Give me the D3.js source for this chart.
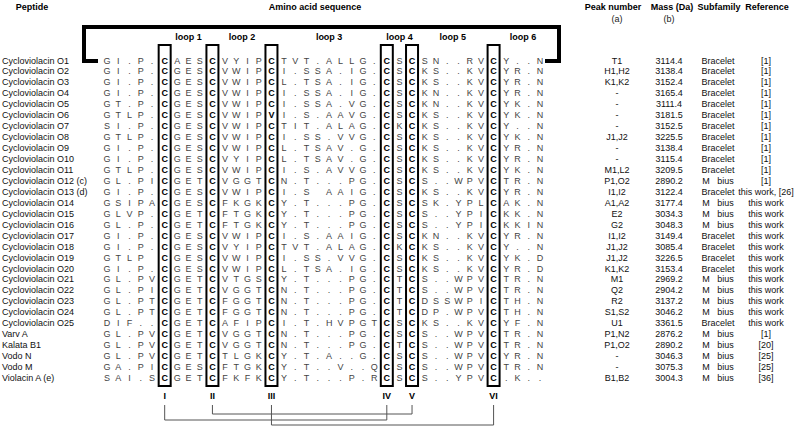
<!DOCTYPE html>
<html><head><meta charset="utf-8">
<script src="https://cdn.jsdelivr.net/npm/d3@7"></script>
<style>
body{margin:0;background:#fff}
svg text{font-family:"Liberation Sans",Arial,Helvetica,sans-serif}
</style>
</head><body>
<svg id="chart" width="794" height="426"></svg>
<script>
// ---------- data ----------
const peptides = ["Cycloviolacin O1","Cycloviolacin O2","Cycloviolacin O3","Cycloviolacin O4","Cycloviolacin O5",
"Cycloviolacin O6","Cycloviolacin O7","Cycloviolacin O8","Cycloviolacin O9","Cycloviolacin O10",
"Cycloviolacin O11","Cycloviolacin O12 (c)","Cycloviolacin O13 (d)","Cycloviolacin O14","Cycloviolacin O15",
"Cycloviolacin O16","Cycloviolacin O17","Cycloviolacin O18","Cycloviolacin O19","Cycloviolacin O20",
"Cycloviolacin O21","Cycloviolacin O22","Cycloviolacin O23","Cycloviolacin O24","Cycloviolacin O25",
"Varv A","Kalata B1","Vodo N","Vodo M","Violacin A (e)"];

// segments: pre | Cys I | loop1 | Cys II | loop2 | Cys III | loop3 | Cys IV | loop4 | Cys V | loop5 | Cys VI | loop6   ("_" = blank)
const sequences = [
"GI.P. C AES C VYIP C TVT.ALLG. C S C SN..RV C Y..N",
"GI.P. C GES C VWIP C I.SSA.IG. C S C KS..KV C YR.N",
"GI.P. C GES C VWIP C L.TSA.IG. C S C KS..KV C YR.N",
"GI.P. C GES C VWIP C I.SSA.IG. C S C KN..KV C YR.N",
"GT.P. C GES C VWIP C I.SSA.VG. C S C KN..KV C YK.N",
"GTLP. C GES C VWIP V I.S.AAVG. C S C KS..KV C YK.N",
"SI.P. C GES C VWIP C TIT.ALAG. C K C KS..KV C Y..N",
"GTLP. C GES C VWIP C I.SS.VVG. C S C KS..KV C YK.N",
"GI.P. C GES C VWIP C L.TSAV.G. C S C KS..KV C YR.N",
"GI.P. C GES C VYIP C L.TSAV.G. C S C KS..KV C YR.N",
"GTLP. C GES C VWIP C I.S.AVVG. C S C KS..KV C YK.N",
"GL.PI C GET C VGGT C N.T...PG. C S C S..WPV C TR.N",
"GI.P. C GES C VWIP C I.S_AAIG. C S C KS..KV C YR.N",
"GSIPA C GES C FKGK C Y.T...PG. C S C SK.YPL C AK.N",
"GLVP. C GET C FTGK C Y.T...PG. C S C S..YPI C KK.N",
"GL.P. C GET C FTGK C Y.T...PG. C S C S..YPI C KKIN",
"GI.P. C GES C VWIP C I.S.AAIG. C S C KN..KV C YR.N",
"GI.P. C GES C VYIP C TVT.ALAG. C K C KS..KV C Y..N",
"GTLP_ C GES C VWIP C I.SS.VVG. C S C KS..KV C YK.D",
"GI.P. C GES C VWIP C L.TSA.IG. C S C KS..KV C YR.D",
"GL.PV C GET C VTGS C Y.T...PG. C T C S..WPV C TR.N",
"GL.PI C GET C VGGT C N.T...PG. C T C S..WPV C TR.N",
"GL.PT C GET C FGGT C N.T...PG. C T C DSSWPI C TH.N",
"GL.PT C GET C FGGT C N.T...PG. C T C DP.WPV C TH.N",
"DIF.. C GET C AFIP C I.T.HVPGT C S C KS..KV C YF.N",
"GL.PV C GET C VGGT C N.T...PG. C S C S..WPV C TR.N",
"GL.PV C GET C VGGT C N.T...PG. C T C S..WPV C TR.N",
"GL.PV C GET C TLGK C Y.T.A..G. C S C S..WPV C YR.N",
"GA.PI C GES C FTGK C Y.T..V..Q C S C S..WPV C TR.N",
"SAI.S C GET C FKFK C Y.T...P.R C S C S..YPV C .K.."
];

const peakNumbers = ["T1","H1,H2","K1,K2","-","-","-","-","J1,J2","-","-","M1,L2","P1,O2","I1,I2","A1,A2","E2","G2",
"I1,I2","J1,J2","J1,J2","K1,K2","M1","Q2","R2","S1,S2","U1","P1,N2","P1,O2","-","-","B1,B2"];

const masses = ["3114.4","3138.4","3152.4","3165.4","3111.4","3181.5","3152.5","3225.5","3138.4","3115.4","3209.5",
"2890.2","3122.4","3177.4","3034.3","3048.3","3149.4","3085.4","3226.5","3153.4","2969.2","2904.2","3137.2",
"3046.2","3361.5","2876.2","2890.2","3046.3","3075.3","3004.3"];

const subfamilies = ["Bracelet","Bracelet","Bracelet","Bracelet","Bracelet","Bracelet","Bracelet","Bracelet","Bracelet",
"Bracelet","Bracelet","M   bius","Bracelet","M   bius","M   bius","M   bius","Bracelet","Bracelet","Bracelet","Bracelet",
"M   bius","M   bius","M   bius","M   bius","Bracelet","M   bius","M   bius","M   bius","M   bius","M   bius"];

const references = ["[1]","[1]","[1]","[1]","[1]","[1]","[1]","[1]","[1]","[1]","[1]","[1]","this work, [26]",
"this work","this work","this work","this work","this work","this work","this work","this work","this work",
"this work","this work","this work","[1]","[20]","[25]","[25]","[36]"];

const columnHeaders = [
  {key:"peak", title:"Peak number", note:"(a)"},
  {key:"mass", title:"Mass (Da)", note:"(b)"},
  {key:"sub", title:"Subfamily", note:""},
  {key:"ref", title:"Reference", note:""}
];
const loopLabels = ["loop 1","loop 2","loop 3","loop 4","loop 5","loop 6"];
const cysLabels = ["I","II","III","IV","V","VI"];
const bonds = [[1,4],[0,3],[2,5]]; // II-V, I-IV, III-VI (drawn at increasing depth)

// ---------- layout ----------
const svg = d3.select("#chart");
const font = 9;

const rowY = d3.scalePoint().domain(peptides).range([60.5, 378]);

// column unit positions
const segs = sequences[0].split(" ").map(s => s.length);
const gapU = 1.12;
const colU = [];
const segCols = [];
let u = 0, prevType = null, ci = 0;
segs.forEach((n, si) => {
  const type = si % 2 === 1 ? "cys" : "loop";
  const cols = [];
  for (let k = 0; k < n; k++) {
    if (prevType !== null) u += (prevType !== type || type === "cys") ? gapU : 1;
    colU.push(u); cols.push(ci++); prevType = type;
  }
  segCols.push(cols);
});
const totalU = colU[colU.length - 1];
const colX = d3.scaleLinear().domain([0, totalU]).range([107, 540]);

// ---------- headers ----------
const hdr = svg.append("g").attr("font-weight", "bold").attr("font-size", font).attr("text-anchor", "middle");
hdr.append("text").attr("x", 32).attr("y", 10).text("Peptide");
hdr.append("text").attr("x", 315).attr("y", 10).text("Amino acid sequence");

const colCenters = {peak: 617, mass: 669, sub: 718, ref: 766};
const hdrCenters = {peak: 613, mass: 672, sub: 719, ref: 767};
columnHeaders.forEach(h => {
  hdr.append("text").attr("x", hdrCenters[h.key]).attr("y", 10).text(h.title);
  if (h.note) svg.append("text").attr("x", colCenters[h.key]).attr("y", 21.5).attr("font-size", font)
    .attr("text-anchor", "middle").attr("fill", "#222").text(h.note);
});

// ---------- bracket ----------
const yTop = 27, yRow0 = rowY(peptides[0]) + 0.5;
const xl = colX(0) - 23, xr = colX(totalU) + 19;
const p = d3.path();
p.moveTo(colX(0) - 9, yRow0); p.lineTo(xl, yRow0); p.lineTo(xl, yTop); p.lineTo(xr, yTop);
p.lineTo(xr, yRow0); p.lineTo(colX(totalU) + 5, yRow0);
svg.append("path").attr("d", p.toString()).attr("fill", "none").attr("stroke", "#000")
  .attr("stroke-width", 4).attr("stroke-linejoin", "miter");

// ---------- cysteine boxes ----------
const cysSegIdx = [1,3,5,7,9,11];
const cysX = cysSegIdx.map(si => colX(colU[segCols[si][0]]));
svg.append("g").selectAll("rect").data(cysX).join("rect")
  .attr("x", d => d - 6).attr("y", 45).attr("width", 12).attr("height", 341)
  .attr("fill", "none").attr("stroke", "#000").attr("stroke-width", 2);

// loop labels
const loopSegIdx = [2,4,6,8,10,12];
svg.append("g").attr("font-weight", "bold").attr("font-size", font).attr("text-anchor", "middle")
  .selectAll("text").data(loopSegIdx).join("text")
  .attr("x", si => { const c = segCols[si]; return (colX(colU[c[0]]) + colX(colU[c[c.length-1]])) / 2; })
  .attr("y", 40).text((si, i) => loopLabels[i]);

// roman numerals
svg.append("g").attr("font-weight", "bold").attr("font-size", 9).attr("text-anchor", "middle")
  .selectAll("text").data(cysLabels).join("text")
  .attr("x", (d, i) => cysX[i]).attr("y", 399).text(d => d);

// disulfide bonds
const bondY = [414, 420, 425];
const bg = svg.append("g").attr("fill", "none").attr("stroke", "#555").attr("stroke-width", 1);
bonds.forEach((b, i) => {
  const bp = d3.path();
  bp.moveTo(cysX[b[0]], 405); bp.lineTo(cysX[b[0]], bondY[i]);
  bp.lineTo(cysX[b[1]], bondY[i]); bp.lineTo(cysX[b[1]], 405);
  bg.append("path").attr("d", bp.toString());
});

// ---------- rows ----------
const rows = svg.append("g").attr("font-size", font).attr("dominant-baseline", "central");
const isCys = [];
segs.forEach((n, si) => { for (let k = 0; k < n; k++) isCys.push(si % 2 === 1); });
peptides.forEach((name, ri) => {
  const y = rowY(name);
  rows.append("text").attr("x", 2).attr("y", y).attr("fill", "#111").text(name);
  const letters = sequences[ri].split(" ").join("").split("");
  letters.forEach((ch, k) => {
    if (ch === "_") return;
    rows.append("text").attr("x", colX(colU[k])).attr("y", y).attr("text-anchor", "middle")
      .attr("fill", isCys[k] ? "#000" : "#444").attr("font-weight", isCys[k] ? "bold" : "normal")
      .text(ch);
  });
  const right = [[colCenters.peak, peakNumbers[ri]], [colCenters.mass, masses[ri]],
                 [colCenters.sub, subfamilies[ri]], [colCenters.ref, references[ri]]];
  right.forEach(([x, t]) => rows.append("text").attr("x", x).attr("y", y).attr("text-anchor", "middle")
    .attr("fill", "#111").style("white-space", "pre").text(t));
});
</script>
</body></html>
